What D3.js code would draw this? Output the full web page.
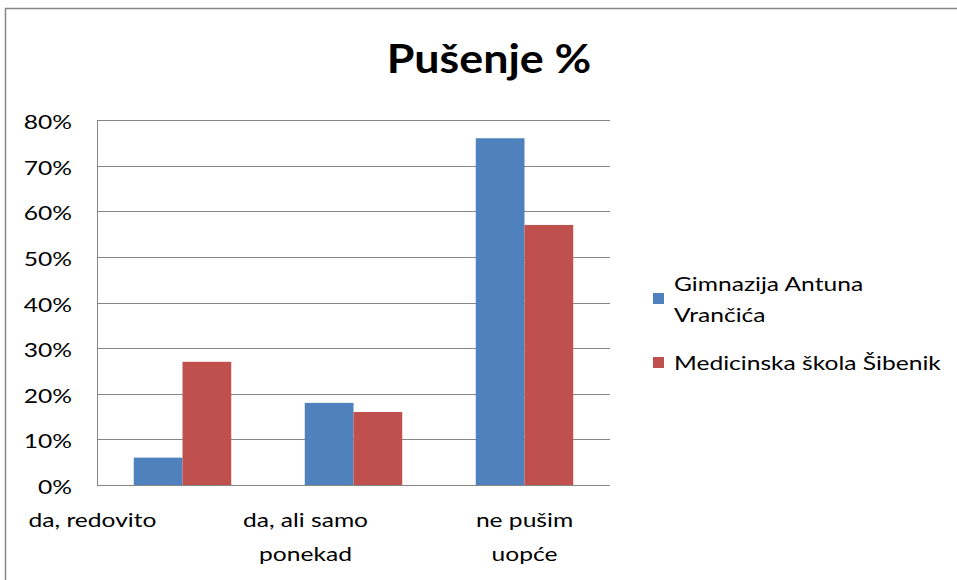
<!DOCTYPE html>
<html>
<head>
<meta charset="utf-8">
<script src="https://cdn.jsdelivr.net/npm/d3@7"></script>
<style>
  body { margin: 0; background: #fff; }
  text { font-family: Lato, "Open Sans", sans-serif; fill: #000; }
  .grid line { stroke: #868686; stroke-width: 1; }
</style>
</head>
<body>
<div class="container"></div>
<script>
const WIDTH = 957;
const HEIGHT = 580;

// data
var categories = [["da, redovito"], ["da, ali samo", "ponekad"], ["ne pušim", "uopće"]];
var seriesNames = [["Gimnazija Antuna", "Vrančića"], ["Medicinska škola Šibenik"]];
var gimnazija = [0.06, 0.18, 0.76];
var medicinska = [0.27, 0.16, 0.57];
var yTicks = [0, 0.1, 0.2, 0.3, 0.4, 0.5, 0.6, 0.7, 0.8];
var colors = ["#4F81BD", "#C0504D"];

var PLOT = {left: 97, right: 610, top: 120, bottom: 485};
// excel drew the category labels shifted left of their bands
var labelShift = [-90, -48, 0];
// the original font is wider than Lato, stretch text horizontally
var SX = 1.23;

var translate = function(x, y){
  return "translate(" + x + "," + y + ")";
};

var svg = d3.select('.container').append('svg')
  .attr('width', WIDTH)
  .attr('height', HEIGHT);

// chart frame
svg.append('rect')
  .attr('x', 5.5).attr('y', 8.5)
  .attr('width', 1000).attr('height', 1000)
  .attr('fill', 'none')
  .attr('stroke', '#868686')
  .attr('stroke-width', 1.5);

svg.append('text')
  .attr('transform', translate(489, 73) + ' scale(1.12,1)')
  .attr('text-anchor', 'middle')
  .style('font-size', '40px')
  .style('font-weight', 'bold')
  .text('Pušenje %');

var x0 = d3.scaleBand()
  .domain(d3.range(categories.length))
  .range([PLOT.left, PLOT.right])
  .paddingInner(0.43)
  .paddingOuter(0.215);

var x1 = d3.scaleBand()
  .domain([0, 1])
  .range([0, x0.bandwidth()]);

var yScale = d3.scaleLinear()
  .domain([0, 0.8])
  .range([PLOT.bottom, PLOT.top]);

// gridlines
svg.append('g').classed('grid', true)
  .selectAll('line')
  .data(yTicks)
  .join('line')
  .attr('x1', PLOT.left).attr('x2', PLOT.right)
  .attr('y1', function(d){ return Math.round(yScale(d)) + 0.5; })
  .attr('y2', function(d){ return Math.round(yScale(d)) + 0.5; });

svg.append('line')
  .attr('x1', PLOT.left + 0.5).attr('x2', PLOT.left + 0.5)
  .attr('y1', PLOT.top).attr('y2', PLOT.bottom)
  .attr('stroke', '#868686');

// y tick labels
svg.append('g')
  .selectAll('text')
  .data(yTicks)
  .join('text')
  .attr('transform', function(d){ return translate(72, yScale(d) + 9) + ' scale(' + SX + ',1)'; })
  .attr('text-anchor', 'end')
  .style('font-size', '20px')
  .text(d3.format('.0%'));

// bars
var series = [gimnazija, medicinska];
var groups = svg.append('g')
  .selectAll('g')
  .data(series)
  .join('g')
  .attr('fill', function(d, i){ return colors[i]; });

groups.each(function(vals, si){
  d3.select(this).selectAll('rect')
    .data(vals)
    .join('rect')
    .attr('x', function(d, ci){ return x0(ci) + x1(si); })
    .attr('width', x1.bandwidth())
    .attr('y', function(d){ return yScale(d); })
    .attr('height', function(d){ return PLOT.bottom - yScale(d); });
});

// category labels
var cat = svg.append('g')
  .selectAll('text')
  .data(categories)
  .join('text')
  .attr('text-anchor', 'middle')
  .style('font-size', '20px')
  .attr('transform', function(d, i){
    return translate(x0(i) + x0.bandwidth() / 2 + labelShift[i], 527) + ' scale(' + SX + ',1)';
  });
cat.selectAll('tspan')
  .data(function(d){ return d; })
  .join('tspan')
  .attr('x', 0)
  .attr('y', function(d, i){ return i * 34; })
  .text(function(d){ return d; });

// legend
var legendY = [291, 370];
var legend = svg.append('g')
  .selectAll('g')
  .data(seriesNames)
  .join('g')
  .attr('transform', function(d, i){ return translate(653, legendY[i]); });

legend.append('rect')
  .attr('x', 0)
  .attr('y', function(d){ return (d.length - 1) * 15 - 13; })
  .attr('width', 11).attr('height', 11)
  .attr('fill', function(d, i){ return colors[i]; });

legend.append('text')
  .attr('transform', translate(21, 0) + ' scale(' + SX + ',1)')
  .style('font-size', '20px')
  .selectAll('tspan')
  .data(function(d){ return d; })
  .join('tspan')
  .attr('x', 0)
  .attr('y', function(d, i){ return i * 31; })
  .text(function(d){ return d; });
</script>
</body>
</html>
